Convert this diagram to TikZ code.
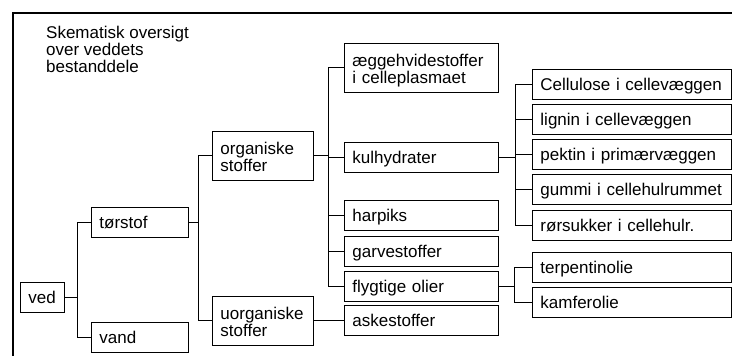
\documentclass[tikz,border=0pt]{standalone}
\usepackage{fontspec}
\setmainfont{Liberation Sans}
\usepackage{tikz}

\begin{document}
\begin{tikzpicture}[x=1pt, y=-1pt,
  every node/.style={font=\fontsize{17}{17}\selectfont},
  kasse/.style={rectangle, draw, line width=0.9pt, anchor=west, align=left,
    inner xsep=8pt, inner ysep=0pt, minimum height=30pt, text height=15pt, text depth=3pt},
  kasse2/.style={kasse, minimum height=49pt, text height=17pt, text depth=19pt},
  forbind/.style={line width=0.9pt},
  ramme/.style={line width=2pt}]
\useasboundingbox (0,0) rectangle (732,356);
\draw[ramme] (732,13) -- (13,13) -- (13,356);
\node[align=left, anchor=north west, inner sep=0pt] (titel) at (46,26)
  {Skematisk oversigt\\over veddets\\bestanddele};

% ved og de to hovedgrupper
\node[kasse, text width=28pt] (ved) at (20,297.5) {ved};
\node[kasse, text width=81pt] (torstof) at (91,222) {tørstof};
\node[kasse, text width=81pt] (vand) at (91,337.5) {vand};
\node[kasse2, text width=85pt] (org) at (212,155.5) {organiske\\stoffer};
\node[kasse2, text width=85pt] (uorg) at (212,320.5) {uorganiske\\stoffer};

% tredje kolonne
\node[kasse2, text width=138pt] (aeggehvide) at (344,67.5) {æggehvidestoffer\\i celleplasmaet};
\node[kasse, text width=138pt] (kulhydrater) at (344,157) {kulhydrater};
\node[kasse, text width=138pt] (harpiks) at (344,215.5) {harpiks};
\node[kasse, text width=138pt] (garve) at (344,251) {garvestoffer};
\node[kasse, text width=138pt] (flygtige) at (344,286) {flygtige olier};
\node[kasse, text width=138pt] (aske) at (344,320.5) {askestoffer};

% fjerde kolonne
\node[kasse, text width=183pt] (cellulose) at (532,84) {Cellulose i cellevæggen};
\node[kasse, text width=183pt] (lignin) at (532,119.5) {lignin i cellevæggen};
\node[kasse, text width=183pt] (pektin) at (532,154.5) {pektin i primærvæggen};
\node[kasse, text width=183pt] (gummi) at (532,189.5) {gummi i cellehulrummet};
\node[kasse, text width=183pt] (roersukker) at (532,225) {rørsukker i cellehulr.};
\node[kasse, text width=183pt] (terpentin) at (532,267.5) {terpentinolie};
\node[kasse, text width=183pt] (kamfer) at (532,302.5) {kamferolie};

% forbindelser
\foreach \b in {torstof,vand}
  \draw[forbind] (ved.east) -- ++(13,0) |- (\b.west);
\foreach \b in {org,uorg}
  \draw[forbind] (torstof.east) -- ++(10,0) |- (\b.west);
\foreach \b in {aeggehvide,kulhydrater,harpiks,garve,flygtige}
  \draw[forbind] (org.east) -- ++(15,0) |- (\b.west);
\draw[forbind] (uorg.east) -- (aske.west);
\foreach \b in {cellulose,lignin,pektin,gummi,roersukker}
  \draw[forbind] (kulhydrater.east) -- ++(17,0) |- (\b.west);
\foreach \b in {terpentin,kamfer}
  \draw[forbind] (flygtige.east) -- ++(16,0) |- (\b.west);
\end{tikzpicture}
\end{document}
